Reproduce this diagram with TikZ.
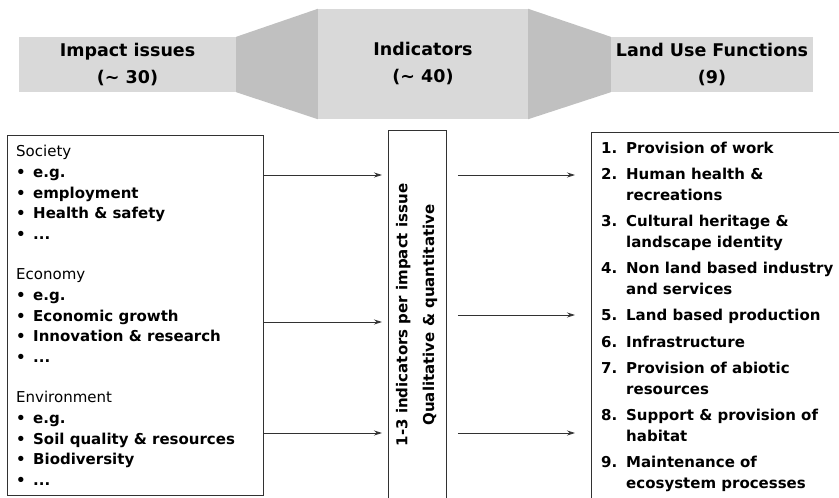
\documentclass[tikz,border=0pt]{standalone}
\usepackage{fontspec}
\setmainfont{DejaVu Sans}
\usepackage{tikz}
\usetikzlibrary{arrows.meta}

\definecolor{bandgray}{RGB}{217,217,217}
\definecolor{funnelgray}{RGB}{192,192,192}
\definecolor{framegray}{RGB}{50,50,50}

\newcommand{\itm}[1]{\makebox[17pt][l]{\textbf{\textbullet}}\textbf{#1}}
\newcommand{\fnum}[1]{\makebox[25pt][l]{#1}}
\newcommand{\fcont}{\hspace*{25pt}}

\begin{document}
\begin{tikzpicture}[
    x=1pt, y=-1pt,
    head/.style={fill=bandgray, inner sep=0, align=center, font=\bfseries\fontsize{17.5}{27}\selectfont},
    funnel/.style={fill=funnelgray},
    frame/.style={draw=framegray, line width=0.9pt, inner sep=0},
    txt/.style={inner sep=0, align=left, font=\fontsize{15}{20.75}\selectfont},
    arrow/.style={->, >={Stealth[length=8pt,width=5pt]}, line width=0.8pt, draw=framegray}
]
    \useasboundingbox (0,0) rectangle (839,498);

    \node[head, minimum width=217, minimum height=55] (impact) at (127.5,64.5) {Impact issues\\(\textasciitilde{} 30)};
    \node[head, minimum width=210, minimum height=110] (indhead) at (423,64) {Indicators\\(\textasciitilde{} 40)};
    \node[head, minimum width=202, minimum height=55] (lufhead) at (712,64.5) {Land Use Functions\\(9)};
    \fill[funnel] (impact.north east) -- (indhead.north west) -- (indhead.south west) -- (impact.south east) -- cycle;
    \fill[funnel] (indhead.north east) -- (lufhead.north west) -- (lufhead.south west) -- (indhead.south east) -- cycle;

    \node[frame, anchor=north west, minimum width=256, minimum height=360] (issues) at (7,135) {};
    \node[frame, anchor=north west, minimum width=58, minimum height=380] (ind) at (388,130) {};
    \node[frame, anchor=north west, minimum width=260, minimum height=380] (luf) at (591,132) {};

    \node[txt, anchor=north west] (issuelist) at (16,145) {
        Society\\
        \itm{e.g.}\\
        \itm{employment}\\
        \itm{Health \& safety}\\
        \itm{...}\\[19.25pt]
        Economy\\
        \itm{e.g.}\\
        \itm{Economic growth}\\
        \itm{Innovation \& research}\\
        \itm{...}\\[19.25pt]
        Environment\\
        \itm{e.g.}\\
        \itm{Soil quality \& resources}\\
        \itm{Biodiversity}\\
        \itm{...}};

    \node[txt, align=center, rotate=90, font=\bfseries\fontsize{15}{20.75}\selectfont] (indtxt) at (416.5,315)
        {1-3 indicators per impact issue\\[6pt]Qualitative \& quantitative};

    \node[txt, anchor=north west, font=\bfseries\fontsize{15}{20.5}\selectfont] (funclist) at (601,141.6) {
        \fnum{1.}Provision of work\\[6pt]
        \fnum{2.}Human health \&\\
        \fcont recreations\\[6pt]
        \fnum{3.}Cultural heritage \&\\
        \fcont landscape identity\\[6pt]
        \fnum{4.}Non land based industry\\
        \fcont and services\\[6pt]
        \fnum{5.}Land based production\\[6pt]
        \fnum{6.}Infrastructure\\[6pt]
        \fnum{7.}Provision of abiotic\\
        \fcont resources\\[6pt]
        \fnum{8.}Support \& provision of\\
        \fcont habitat\\[6pt]
        \fnum{9.}Maintenance of\\
        \fcont ecosystem processes};

    \coordinate (soc) at (0,175);
    \coordinate (eco) at (0,322);
    \coordinate (env) at (0,433);
    \coordinate (top) at (0,175);
    \coordinate (mid) at (0,315);
    \coordinate (low) at (0,433);

    \draw[arrow, shorten >=6pt] (issues.east |- soc) -- (ind.west |- soc);
    \draw[arrow, shorten >=6pt] (issues.east |- eco) -- (ind.west |- eco);
    \draw[arrow, shorten >=6pt] (issues.east |- env) -- (ind.west |- env);
    \draw[arrow, shorten <=11pt, shorten >=16pt] (ind.east |- top) -- (luf.west |- top);
    \draw[arrow, shorten <=11pt, shorten >=16pt] (ind.east |- mid) -- (luf.west |- mid);
    \draw[arrow, shorten <=11pt, shorten >=16pt] (ind.east |- low) -- (luf.west |- low);
\end{tikzpicture}
\end{document}
